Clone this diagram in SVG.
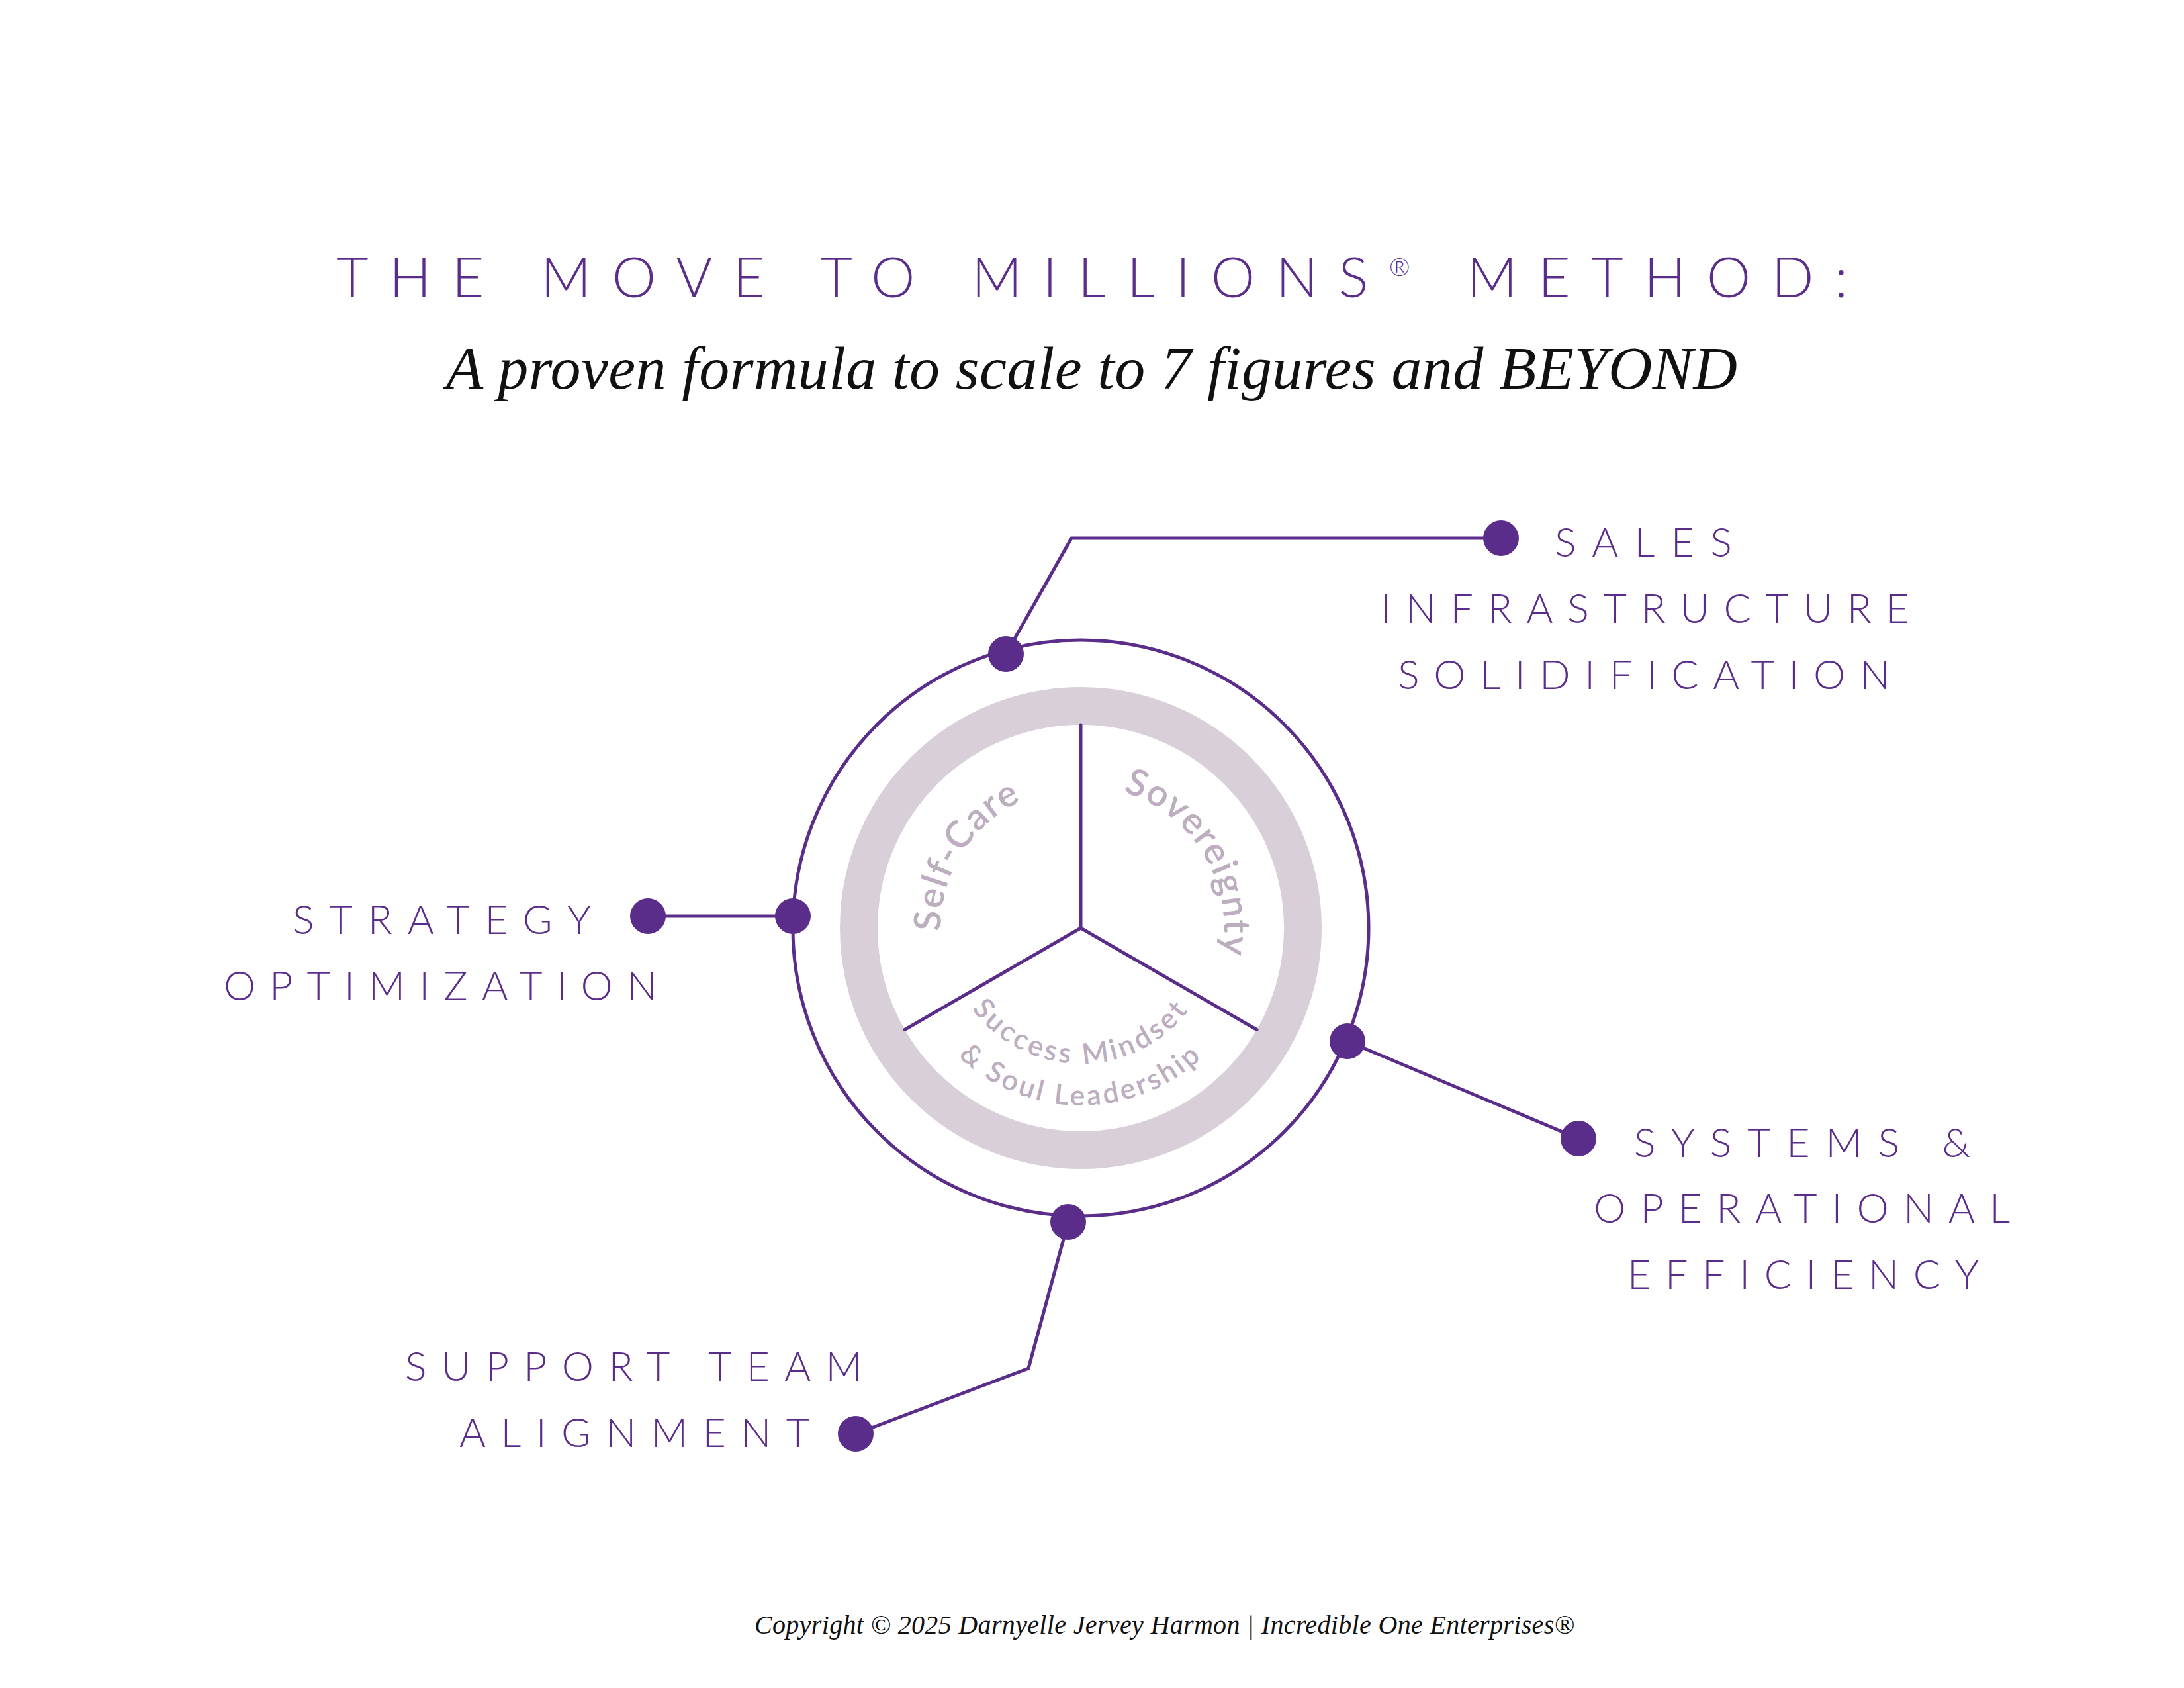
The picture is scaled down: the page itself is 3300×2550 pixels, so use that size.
<svg xmlns="http://www.w3.org/2000/svg" width="3300" height="2550" viewBox="0 0 3300 2550">
<style>
.bg{fill:#ffffff}
.purple-line{fill:none;stroke:#5b2d8b;stroke-width:5;stroke-linecap:round;stroke-linejoin:miter}
.dot{fill:#5b2d8b}
.ring{fill:none;stroke:#d8cfd9;stroke-width:57}
.label{font-family:Lato,"Noto Sans","Liberation Sans",sans-serif;font-weight:300;font-size:61px;fill:#5b2d8b}
.title{font-family:Lato,"Noto Sans","Liberation Sans",sans-serif;font-weight:300;font-size:84px;fill:#5b2d8b}
.subtitle{font-family:"Liberation Serif","DejaVu Serif",serif;font-style:italic;font-size:92px;fill:#111111}
.copy{font-family:"Liberation Serif","DejaVu Serif",serif;font-style:italic;font-size:40px;fill:#111111}
.inner{font-family:Lato,"Noto Sans","Liberation Sans",sans-serif;font-weight:600;fill:#bcadbf}
.inner-big{font-size:56px;letter-spacing:2px}
.inner-small{font-size:43px}
</style>
<defs>
<path id="arc-selfcare" d="M 1445.8 1501.5 A 212 212 0 0 1 1640.4 1190.1"/>
<path id="arc-sovereignty" d="M 1625.6 1187.1 A 215 215 0 0 1 1820.4 1509.9"/>
<path id="arc-success" d="M 1455.5 1504.5 A 205 205 0 0 0 1810.5 1504.5"/>
<path id="arc-soul" d="M 1400.9 1536 A 268 268 0 0 0 1865.1 1536"/>
</defs>
<rect class="bg" x="0" y="0" width="3300" height="2550"/>

<g id="title">
<text class="title" x="508" y="449" textLength="2284" lengthAdjust="spacing">THE MOVE TO MILLIONS<tspan font-size="38" dy="-32">®</tspan><tspan dy="32"> METHOD:</tspan></text>
<text class="subtitle" x="674" y="587" textLength="1951" lengthAdjust="spacing">A proven formula to scale to 7 figures and BEYOND</text>
</g>

<g id="node-core">
<circle class="purple-line" cx="1633" cy="1402" r="435"/>
<circle class="ring" cx="1633" cy="1402" r="335.5"/>
<line class="purple-line" x1="1633" y1="1402" x2="1633" y2="1095"/>
<line class="purple-line" x1="1633" y1="1402" x2="1367" y2="1555.5"/>
<line class="purple-line" x1="1633" y1="1402" x2="1899" y2="1555.5"/>
<text class="inner inner-big"><textPath href="#arc-selfcare" startOffset="50%" text-anchor="middle">Self-Care</textPath></text>
<text class="inner inner-big"><textPath href="#arc-sovereignty" startOffset="50%" text-anchor="middle">Sovereignty</textPath></text>
<text class="inner inner-small" letter-spacing="4.5"><textPath href="#arc-success" startOffset="50%" text-anchor="middle">Success Mindset</textPath></text>
<text class="inner inner-small" letter-spacing="4"><textPath href="#arc-soul" startOffset="50%" text-anchor="middle">&amp; Soul Leadership</textPath></text>
</g>

<g id="connectors">
<polyline class="purple-line" points="1520,988 1619,813 2268,813"/>
<line class="purple-line" x1="1198" y1="1384" x2="979" y2="1384"/>
<line class="purple-line" x1="2036" y1="1573" x2="2385" y2="1720"/>
<polyline class="purple-line" points="1614,1846 1554,2067 1293,2166"/>
<circle class="dot" cx="1520" cy="988" r="27"/>
<circle class="dot" cx="1198" cy="1384" r="27"/>
<circle class="dot" cx="2036" cy="1573" r="27"/>
<circle class="dot" cx="1614" cy="1846" r="27"/>
</g>

<g id="node-sales">
<circle class="dot" cx="2268" cy="813" r="27"/>
<text class="label" x="2349" y="841" textLength="268" lengthAdjust="spacing">SALES</text>
<text class="label" x="2086" y="941" textLength="799" lengthAdjust="spacing">INFRASTRUCTURE</text>
<text class="label" x="2112" y="1041" textLength="744" lengthAdjust="spacing">SOLIDIFICATION</text>
</g>

<g id="node-strategy">
<circle class="dot" cx="979" cy="1384" r="27"/>
<text class="label" x="442" y="1411" textLength="451" lengthAdjust="spacing">STRATEGY</text>
<text class="label" x="338" y="1511" textLength="655" lengthAdjust="spacing">OPTIMIZATION</text>
</g>

<g id="node-systems">
<circle class="dot" cx="2385" cy="1720" r="27"/>
<text class="label" x="2469" y="1748" textLength="508" lengthAdjust="spacing">SYSTEMS &amp;</text>
<text class="label" x="2408" y="1847" textLength="629" lengthAdjust="spacing">OPERATIONAL</text>
<text class="label" x="2459" y="1947" textLength="531" lengthAdjust="spacing">EFFICIENCY</text>
</g>

<g id="node-support">
<circle class="dot" cx="1293" cy="2166" r="27"/>
<text class="label" x="612" y="2086" textLength="691" lengthAdjust="spacing">SUPPORT TEAM</text>
<text class="label" x="694" y="2186" textLength="529" lengthAdjust="spacing">ALIGNMENT</text>
</g>

<g id="footer">
<text class="copy" x="1140" y="2468" textLength="1239" lengthAdjust="spacing">Copyright © 2025 Darnyelle Jervey Harmon | Incredible One Enterprises®</text>
</g>
</svg>
